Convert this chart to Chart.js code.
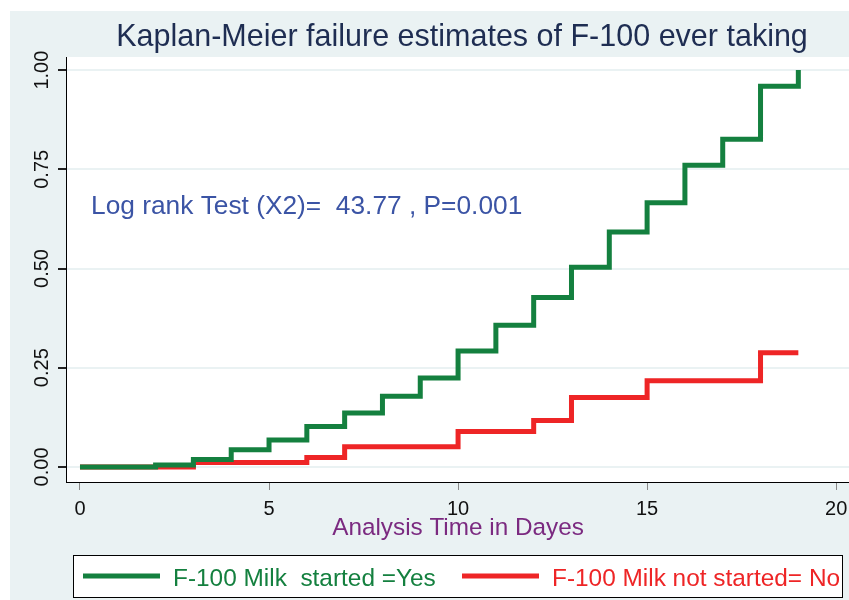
<!DOCTYPE html>
<html>
<head>
<meta charset="utf-8">
<script src="https://cdn.jsdelivr.net/npm/chart.js@4/dist/chart.umd.min.js"></script>
<style>
  html, body { margin: 0; padding: 0; background: #fff; }
  #wrap { width: 849px; height: 600px; }
</style>
</head>
<body>
<div id="wrap"><canvas id="km" width="849" height="600"></canvas></div>
<script>
// Kaplan-Meier failure estimates
const startedTimes = [0, 2, 3, 4, 5, 6, 7, 8, 9, 10, 11, 12, 13, 14, 15, 16, 17, 18, 19];
const startedValues = [0, 0.005, 0.019, 0.043, 0.068, 0.102, 0.136, 0.178, 0.224, 0.292,
  0.357, 0.427, 0.503, 0.592, 0.666, 0.760, 0.826, 0.959, 1.00];
const notStartedTimes = [0, 3, 6, 7, 10, 12, 13, 15, 18, 19];
const notStartedValues = [0, 0.011, 0.024, 0.051, 0.089, 0.117, 0.175, 0.217, 0.288, 0.288];

const seriesLabels = ['F-100 Milk  started =Yes', 'F-100 Milk not started= No'];
const seriesColors = ['#14803f', '#ee2526'];
const xTickLabels = ['0', '5', '10', '15', '20'];
const yTickLabels = ['0.00', '0.25', '0.50', '0.75', '1.00'];

const chartTitle = 'Kaplan-Meier failure estimates of F-100 ever taking';
const xTitle = 'Analysis Time in Dayes';
const noteText = 'Log rank Test (X2)=  43.77 , P=0.001';

const FONT = '"Liberation Sans", Arial, sans-serif';
const BG = '#eaf2f3';

function toPoints(xs, ys) {
  return xs.map((x, i) => ({ x: x, y: ys[i] }));
}

// fonds, titres, étiquettes et légende dessinés à la main
const stataLook = {
  id: 'stataLook',
  beforeDraw(chart) {
    const { ctx, chartArea: a } = chart;
    ctx.save();
    ctx.fillStyle = '#fff';
    ctx.fillRect(0, 0, chart.width, chart.height);
    ctx.fillStyle = BG;
    ctx.fillRect(10, 11, chart.width - 10, chart.height - 11);
    ctx.fillStyle = '#fff';
    ctx.fillRect(a.left, a.top, a.right - a.left, a.bottom - a.top);
    ctx.restore();
  },
  afterDraw(chart) {
    const { ctx } = chart;
    const xs = chart.scales.x, ys = chart.scales.y;
    ctx.save();

    // title
    ctx.fillStyle = '#1e2d52';
    ctx.font = '30.5px ' + FONT;
    ctx.textAlign = 'center';
    ctx.textBaseline = 'alphabetic';
    ctx.fillText(chartTitle, 462, 46);

    // x tick labels
    ctx.fillStyle = '#111';
    ctx.font = '20px ' + FONT;
    xTickLabels.forEach(t => {
      ctx.fillText(t, xs.getPixelForValue(Number(t)), 515);
    });

    // y tick labels, rotated
    yTickLabels.forEach(t => {
      const py = ys.getPixelForValue(Number(t));
      ctx.save();
      ctx.translate(48, py);
      ctx.rotate(-Math.PI / 2);
      ctx.fillText(t, 0, 0);
      ctx.restore();
    });

    // x axis title
    ctx.fillStyle = '#7b2a80';
    ctx.font = '24.3px ' + FONT;
    ctx.fillText(xTitle, 458, 535);

    // log rank note
    ctx.fillStyle = '#3b54a5';
    ctx.font = '26.3px ' + FONT;
    ctx.textAlign = 'left';
    ctx.fillText(noteText, 91, 214);

    // legend
    ctx.fillStyle = '#fff';
    ctx.fillRect(73.5, 555.5, 769, 42);
    ctx.strokeStyle = '#000';
    ctx.lineWidth = 1;
    ctx.strokeRect(73.5, 555.5, 769, 42);
    const starts = [83, 462];
    ctx.font = '24.4px ' + FONT;
    seriesLabels.forEach((lab, i) => {
      ctx.strokeStyle = seriesColors[i];
      ctx.lineWidth = 5;
      ctx.beginPath();
      ctx.moveTo(starts[i], 576);
      ctx.lineTo(starts[i] + 77, 576);
      ctx.stroke();
      ctx.fillStyle = seriesColors[i];
      ctx.fillText(lab, starts[i] + 90, 586);
    });

    ctx.restore();
  }
};

new Chart(document.getElementById('km'), {
  type: 'line',
  data: {
    datasets: [
      {
        label: seriesLabels[0],
        data: toPoints(startedTimes, startedValues),
        borderColor: seriesColors[0],
        borderWidth: 5,
        stepped: 'before',
        pointRadius: 0,
        fill: false
      },
      {
        label: seriesLabels[1],
        data: toPoints(notStartedTimes, notStartedValues),
        borderColor: seriesColors[1],
        borderWidth: 5,
        stepped: 'before',
        pointRadius: 0,
        fill: false
      }
    ]
  },
  options: {
    responsive: false,
    animation: false,
    layout: { padding: { left: 0, top: 57, right: 0, bottom: 0 } },
    plugins: { legend: { display: false }, title: { display: false }, tooltip: { enabled: false } },
    scales: {
      x: {
        type: 'linear',
        min: -0.37,
        max: 20.34,
        afterFit(scale) { scale.height = 118; },
        afterBuildTicks(scale) { scale.ticks = xTickLabels.map(t => ({ value: Number(t) })); },
        ticks: { display: false },
        grid: { drawOnChartArea: false, tickColor: '#888', tickLength: 8, lineWidth: 1 },
        border: { color: '#000', width: 1 }
      },
      y: {
        min: -0.038,
        max: 1.033,
        afterFit(scale) { scale.width = 66; },
        afterBuildTicks(scale) { scale.ticks = yTickLabels.map(t => ({ value: Number(t) })); },
        ticks: { display: false },
        grid: { color: BG, lineWidth: 2, tickColor: '#222', tickLength: 8 },
        border: { color: '#000', width: 1 }
      }
    }
  },
  plugins: [stataLook]
});
</script>
</body>
</html>
